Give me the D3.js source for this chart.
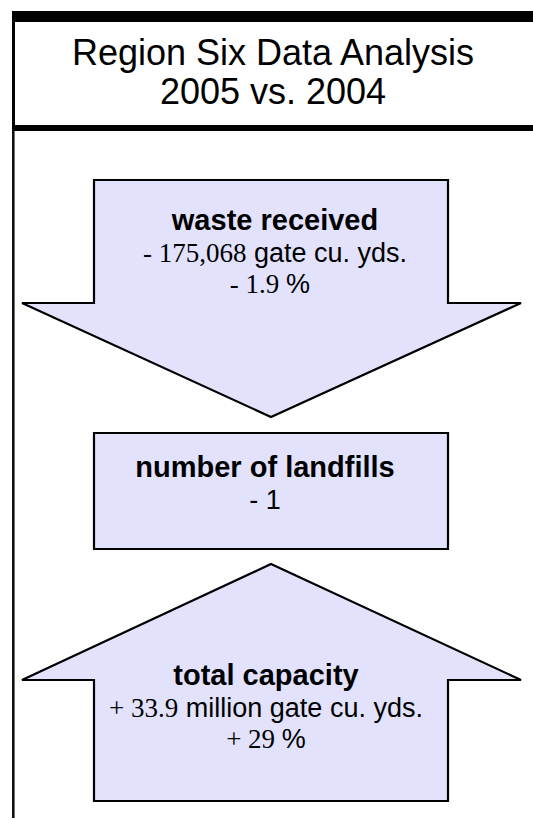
<!DOCTYPE html>
<html>
<head>
<meta charset="utf-8">
<script src="https://cdn.jsdelivr.net/npm/d3@7"></script>
<style>
  html, body { margin: 0; padding: 0; background: #fff; }
  svg { display: block; }
</style>
</head>
<body>
<div id="chart"></div>
<script>
// title lines
const titleLines = ["Region Six Data Analysis", "2005 vs. 2004"];

// one entry per shape, top to bottom
const metrics = ["waste received", "number of landfills", "total capacity"];
const shapes = ["down", "box", "up"];
const signs = ["-", "-", "+"];
const amounts = ["175,068", "1", "33.9"];
const units = ["gate cu. yds.", "", "million gate cu. yds."];
const pcts = ["1.9", null, "29"];

const width = 533, height = 820;
const cx = 271;
const fill = "#e2e2fd";
const sans = "'Liberation Sans', Arial, sans-serif";
const serif = "'Liberation Serif', 'Times New Roman', serif";

const svg = d3.select("#chart")
  .append("svg")
  .attr("width", width)
  .attr("height", height)
  .attr("viewBox", [0, 0, width, height]);

// frame of the table cell
svg.append("rect").attr("x", 12).attr("y", 11).attr("width", width).attr("height", 11).attr("fill", "#000");
svg.append("rect").attr("x", 12).attr("y", 125).attr("width", width).attr("height", 6).attr("fill", "#000");
svg.append("rect").attr("x", 12).attr("y", 11).attr("width", 3).attr("height", 120).attr("fill", "#000");
svg.append("rect").attr("x", 12).attr("y", 131).attr("width", 2.6).attr("height", 687).attr("fill", "#111");

svg.append("g")
  .selectAll("text")
  .data(titleLines)
  .join("text")
  .attr("x", cx + 2)
  .attr("y", (d, i) => 65 + i * 39)
  .attr("text-anchor", "middle")
  .attr("font-family", sans)
  .attr("font-size", 36)
  .text(d => d);

// shape geometry
const shaftX = [94, 448];
const wingX = [22, 521];
const line = d3.line();

const geom = {
  down: {top: 180, wing: 303, tip: 417},
  box: {top: 433, bottom: 549},
  up: {tip: 564, wing: 680, bottom: 801}
};

function shapePoints(kind) {
  const g = geom[kind];
  const [l, r] = shaftX;
  if (kind === "down") {
    return [[l, g.top], [r, g.top], [r, g.wing], [wingX[1], g.wing], [cx, g.tip], [wingX[0], g.wing], [l, g.wing]];
  }
  if (kind === "up") {
    return [[cx, g.tip], [wingX[1], g.wing], [r, g.wing], [r, g.bottom], [l, g.bottom], [l, g.wing], [wingX[0], g.wing]];
  }
  return [[l, g.top], [r, g.top], [r, g.bottom], [l, g.bottom]];
}

svg.append("g")
  .selectAll("path")
  .data(shapes)
  .join("path")
  .attr("d", d => line(shapePoints(d)) + "Z")
  .attr("fill", fill)
  .attr("stroke", "#000")
  .attr("stroke-width", 2.2)
  .attr("stroke-linejoin", "miter");

// label baselines and text centres for each shape
const firstBaseline = [230, 477, 685];
const textX = [275, 265, 266];
const pctX = [270, 0, 266];
const lineGap = 32;

const labels = svg.append("g")
  .selectAll("g")
  .data(metrics)
  .join("g");

labels.append("text")
  .attr("x", (d, i) => textX[i])
  .attr("y", (d, i) => firstBaseline[i])
  .attr("text-anchor", "middle")
  .attr("font-family", sans)
  .attr("font-weight", "bold")
  .attr("font-size", 29)
  .text(d => d);

// amount line
labels.append("text")
  .attr("x", (d, i) => textX[i])
  .attr("y", (d, i) => firstBaseline[i] + lineGap)
  .attr("text-anchor", "middle")
  .attr("font-size", 27)
  .each(function(d, i) {
    const t = d3.select(this);
    if (!units[i]) {
      t.append("tspan").attr("font-family", sans).text(`${signs[i]} ${amounts[i]}`);
    } else {
      t.append("tspan").attr("font-family", serif).text(`${signs[i]} ${amounts[i]}`);
      t.append("tspan").attr("font-family", sans).text(` ${units[i]}`);
    }
  });

// percent line
labels.filter((d, i) => pcts[i] != null)
  .append("text")
  .attr("x", d => pctX[metrics.indexOf(d)])
  .attr("y", d => firstBaseline[metrics.indexOf(d)] + 2 * lineGap - 1)
  .attr("text-anchor", "middle")
  .attr("font-size", 27)
  .each(function(d) {
    const i = metrics.indexOf(d);
    const t = d3.select(this);
    t.append("tspan").attr("font-family", serif).text(`${signs[i]} ${pcts[i]} `);
    t.append("tspan").attr("font-family", sans).text("%");
  });
</script>
</body>
</html>
